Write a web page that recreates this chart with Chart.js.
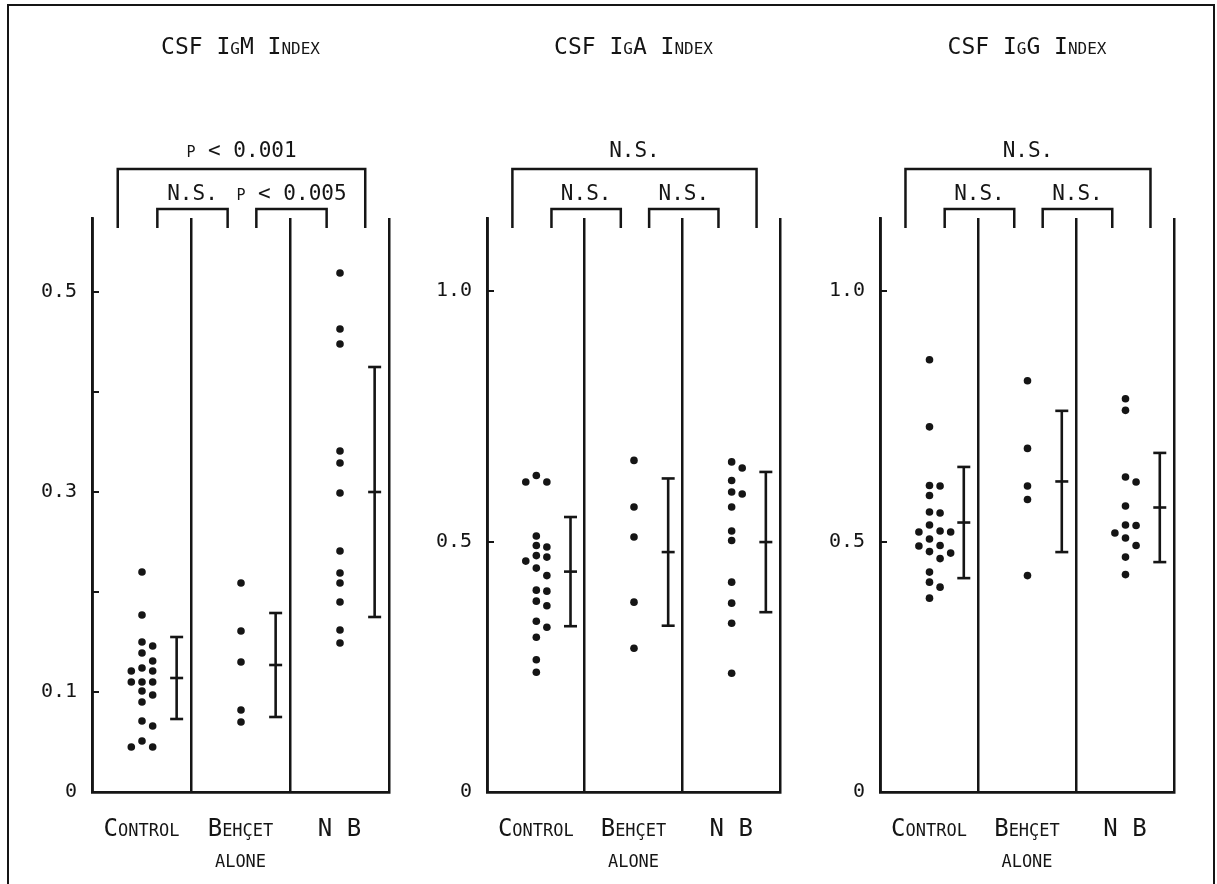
<!DOCTYPE html>
<html>
<head>
<meta charset="utf-8">
<script src="https://cdn.jsdelivr.net/npm/chart.js@4.4.1/dist/chart.umd.min.js"></script>
<style>
  html, body { margin: 0; padding: 0; background: #fff; width: 1217px; height: 884px; overflow: hidden; }
  #frame { position: absolute; left: 7px; top: 4px; width: 1208px; height: 940px; border: 2px solid #151515; box-sizing: border-box; }
  canvas { position: absolute; top: 0; }
</style>
</head>
<body>
<div id="frame"></div>
<canvas id="igm" width="429" height="884" style="left:0px"></canvas>
<canvas id="iga" width="423" height="884" style="left:397px"></canvas>
<canvas id="igg" width="424" height="884" style="left:790px"></canvas>
<script>
// Patient groups along the x axis
const groupLabels = ['Control', ['Behçet', 'alone'], 'N B'];

// CSF IgM index
const igmControl = [0.220, 0.177, 0.150, 0.146, 0.139, 0.131, 0.124, 0.121, 0.121, 0.110,
                    0.110, 0.110, 0.101, 0.097, 0.090, 0.071, 0.066, 0.051, 0.045, 0.045];
const igmBehcet = [0.209, 0.161, 0.130, 0.082, 0.070];
const igmNB = [0.519, 0.463, 0.448, 0.341, 0.329, 0.299, 0.241, 0.219, 0.209, 0.190, 0.162, 0.149];
const igmMean = [0.114, 0.127, 0.300];
const igmSD = [0.041, 0.052, 0.125];
const igmTicks = [0, 0.1, 0.2, 0.3, 0.4, 0.5];
const igmTickLabels = ['0', '0.1', '', '0.3', '', '0.5'];
const igmTests = ['p < 0.001', 'N.S.', 'p < 0.005'];

// CSF IgA index
const igaControl = [0.632, 0.619, 0.619, 0.511, 0.492, 0.489, 0.472, 0.469, 0.461, 0.447,
                    0.432, 0.403, 0.401, 0.381, 0.372, 0.341, 0.329, 0.309, 0.264, 0.239];
const igaBehcet = [0.662, 0.569, 0.509, 0.379, 0.287];
const igaNB = [0.659, 0.647, 0.622, 0.599, 0.595, 0.569, 0.521, 0.502, 0.419, 0.377, 0.337, 0.237];
const igaMean = [0.440, 0.479, 0.499];
const igaSD = [0.109, 0.147, 0.140];
const igaTicks = [0, 0.5, 1.0];
const igaTickLabels = ['0', '0.5', '1.0'];
const igaTests = ['N.S.', 'N.S.', 'N.S.'];

// CSF IgG index
const iggControl = [0.863, 0.729, 0.612, 0.611, 0.592, 0.559, 0.557, 0.533, 0.521, 0.519, 0.519,
                    0.505, 0.492, 0.491, 0.480, 0.477, 0.466, 0.439, 0.419, 0.409, 0.387];
const iggBehcet = [0.821, 0.686, 0.611, 0.584, 0.432];
const iggNB = [0.785, 0.762, 0.629, 0.619, 0.571, 0.533, 0.532, 0.517, 0.507, 0.492, 0.469, 0.434];
const iggMean = [0.538, 0.620, 0.568];
const iggSD = [0.111, 0.141, 0.109];
const iggTicks = [0, 0.5, 1.0];
const iggTickLabels = ['0', '0.5', '1.0'];
const iggTests = ['N.S.', 'N.S.', 'N.S.'];

const INK = '#151515';
const MONO = '"DejaVu Sans Mono"';

// Spread tied values sideways so dots don't overlap (simple beeswarm)
function swarmLanes(values, sep) {
  const order = values.map((v, i) => i).sort((a, b) => values[b] - values[a]);
  const lanes = new Array(values.length);
  const placed = {};
  const tryOrder = [0, 1, -1, 2, -2, 3, -3];
  order.forEach(i => {
    const v = values[i];
    for (const l of tryOrder) {
      const list = placed[l] || (placed[l] = []);
      if (list.every(u => Math.abs(u - v) >= sep)) { list.push(v); lanes[i] = l; break; }
    }
  });
  return lanes;
}

// Comparison brackets above the panels
const bracketPlugin = {
  id: 'brackets',
  afterDraw(chart, args, opts) {
    const { ctx, chartArea } = chart;
    const x = chart.scales.x;
    const top = chartArea.top;
    ctx.save();
    ctx.strokeStyle = INK;
    ctx.fillStyle = INK;
    ctx.lineWidth = 2.5;
    ctx.font = 'small-caps 21px ' + MONO;
    ctx.textAlign = 'center';
    ctx.textBaseline = 'middle';
    opts.items.forEach(b => {
      const x1 = x.getPixelForValue(b.from);
      const x2 = x.getPixelForValue(b.to);
      const yBar = top + b.rise;
      const yLeg = top + 10;
      ctx.beginPath();
      ctx.moveTo(x1, yLeg);
      ctx.lineTo(x1, yBar);
      ctx.lineTo(x2, yBar);
      ctx.lineTo(x2, yLeg);
      ctx.stroke();
      ctx.fillText(b.text, (x1 + x2) / 2, yBar - b.gap);
    });
    ctx.restore();
  }
};

function makePanel(id, title, groups, means, sds, yMax, ticks, tickLabels, tests, axisWidth, rightPad) {
  const sep = yMax * 8.5 / 574;
  const datasets = [];
  groups.forEach((vals, g) => {
    const lanes = swarmLanes(vals, sep);
    datasets.push({
      data: vals.map((v, k) => ({ x: g + 0.505 + lanes[k] * 0.108, y: v })),
      showLine: false,
      pointRadius: 3.8,
      pointBackgroundColor: INK,
      pointBorderWidth: 0
    });
    datasets.push({
      data: [
        { x: g + 0.855, y: means[g] - sds[g] },
        { x: g + 0.855, y: means[g] },
        { x: g + 0.855, y: means[g] + sds[g] }
      ],
      showLine: true,
      borderColor: INK,
      borderWidth: 2.6,
      pointStyle: 'line',
      pointRadius: 6.5,
      pointBorderColor: INK,
      pointBorderWidth: 2.6
    });
  });

  return new Chart(document.getElementById(id), {
    type: 'scatter',
    data: { datasets },
    plugins: [bracketPlugin],
    options: {
      responsive: false,
      animation: false,
      events: [],
      layout: { padding: { left: 0, top: 0, bottom: 0, right: rightPad } },
      plugins: {
        legend: { display: false },
        tooltip: { enabled: false },
        title: {
          display: true,
          text: title,
          fullSize: false,
          color: INK,
          font: { family: MONO, size: 23, weight: 'small-caps', lineHeight: 1.2 },
          padding: { top: 33.8, bottom: 156.6 }
        },
        brackets: {
          items: [
            { from: 0.26, to: 2.76, rise: -49, gap: 17, text: tests[0] },
            { from: 0.66, to: 1.37, rise: -9, gap: 14, text: tests[1] },
            { from: 1.66, to: 2.37, rise: -9, gap: 14, text: tests[2] }
          ]
        }
      },
      scales: {
        x: {
          type: 'linear',
          min: 0,
          max: 3,
          afterBuildTicks: s => { s.ticks = [0.5, 1.5, 2.5].map(v => ({ value: v })); },
          afterFit: s => { s.height = 92; },
          ticks: {
            callback: (v, i) => groupLabels[i],
            autoSkip: false,
            maxRotation: 0,
            color: INK,
            padding: 22,
            font: { family: MONO, size: 24, weight: 'small-caps', lineHeight: 1.3 }
          },
          grid: { offset: true, color: INK, lineWidth: 2.5, drawTicks: false },
          border: { color: INK, width: 2.8 }
        },
        y: {
          type: 'linear',
          min: 0,
          max: yMax,
          afterBuildTicks: s => { s.ticks = ticks.map(v => ({ value: v })); },
          afterFit: s => { s.width = axisWidth; },
          ticks: {
            callback: (v, i) => tickLabels[i],
            color: INK,
            padding: 22,
            font: { family: MONO, size: 20 }
          },
          grid: { drawOnChartArea: false, color: INK, lineWidth: 2, tickLength: -7 },
          border: { color: INK, width: 2.8 }
        }
      }
    }
  });
}

makePanel('igm', 'CSF IgM Index', [igmControl, igmBehcet, igmNB], igmMean, igmSD,
          0.574, igmTicks, igmTickLabels, igmTests, 92, 40);
makePanel('iga', 'CSF IgA Index', [igaControl, igaBehcet, igaNB], igaMean, igaSD,
          1.146, igaTicks, igaTickLabels, igaTests, 90, 40);
makePanel('igg', 'CSF IgG Index', [iggControl, iggBehcet, iggNB], iggMean, iggSD,
          1.146, iggTicks, iggTickLabels, iggTests, 90, 40);
</script>
</body>
</html>
